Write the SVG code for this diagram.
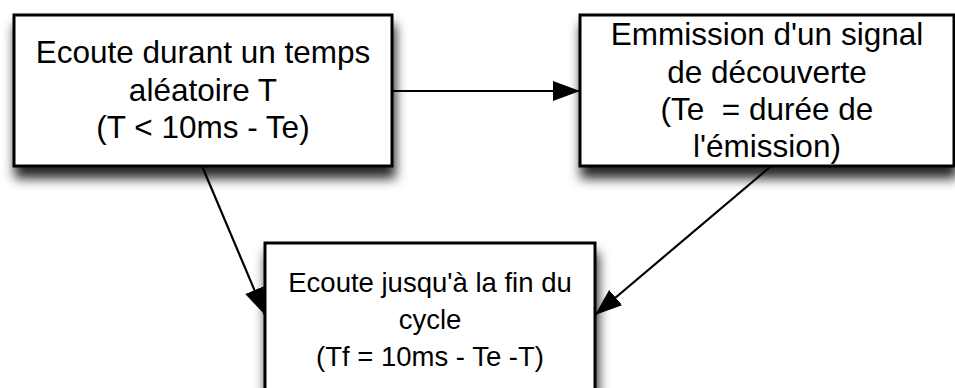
<svg xmlns="http://www.w3.org/2000/svg" width="955" height="388" viewBox="0 0 955 388">
<style>
.box{fill:#fff;stroke:#000;stroke-width:3}
.t{font-family:"Liberation Sans",Arial,sans-serif;fill:#000;text-anchor:middle}
.big{font-size:31.5px}
.small{font-size:27.5px}
.conn{stroke:#000;stroke-width:2.2;fill:none}
</style>
<defs>
<filter id="sh" x="-10%" y="-20%" width="125%" height="150%">
<feDropShadow dx="2" dy="11" stdDeviation="6" flood-color="#000" flood-opacity="0.85"/>
</filter>
<marker id="ah" markerUnits="userSpaceOnUse" markerWidth="28" markerHeight="20" refX="27" refY="10" orient="auto">
<path d="M0,0 L27,10 L0,20 Z" fill="#000"/>
</marker>
</defs>
<rect width="955" height="388" fill="#fff"/>
<g id="n1">
<rect class="box" x="14" y="15" width="378" height="151" filter="url(#sh)"/>
<text class="t big" x="203" y="63">Ecoute durant un temps</text>
<text class="t big" x="203" y="101">aléatoire T</text>
<text class="t big" x="203" y="138">(T &lt; 10ms - Te)</text>
</g>
<g id="n2">
<rect class="box" x="580" y="15" width="374" height="151" filter="url(#sh)"/>
<text class="t big" x="767" y="45">Emmission d'un signal</text>
<text class="t big" x="767" y="83">de découverte</text>
<text class="t big" x="767" y="120" xml:space="preserve">(Te  = durée de</text>
<text class="t big" x="767" y="157">l'émission)</text>
</g>
<g id="n3">
<rect class="box" x="265" y="243" width="330" height="160" filter="url(#sh)"/>
<text class="t small" x="430" y="292">Ecoute jusqu'à la fin du</text>
<text class="t small" x="430" y="329">cycle</text>
<text class="t small" x="430" y="366">(Tf = 10ms - Te -T)</text>
</g>
<g id="connectors">
<line class="conn" x1="392" y1="91" x2="580" y2="91" marker-end="url(#ah)"/>
<line class="conn" x1="202" y1="166" x2="265" y2="315" marker-end="url(#ah)"/>
<line class="conn" x1="770" y1="167" x2="595" y2="315" marker-end="url(#ah)"/>
</g>
</svg>
